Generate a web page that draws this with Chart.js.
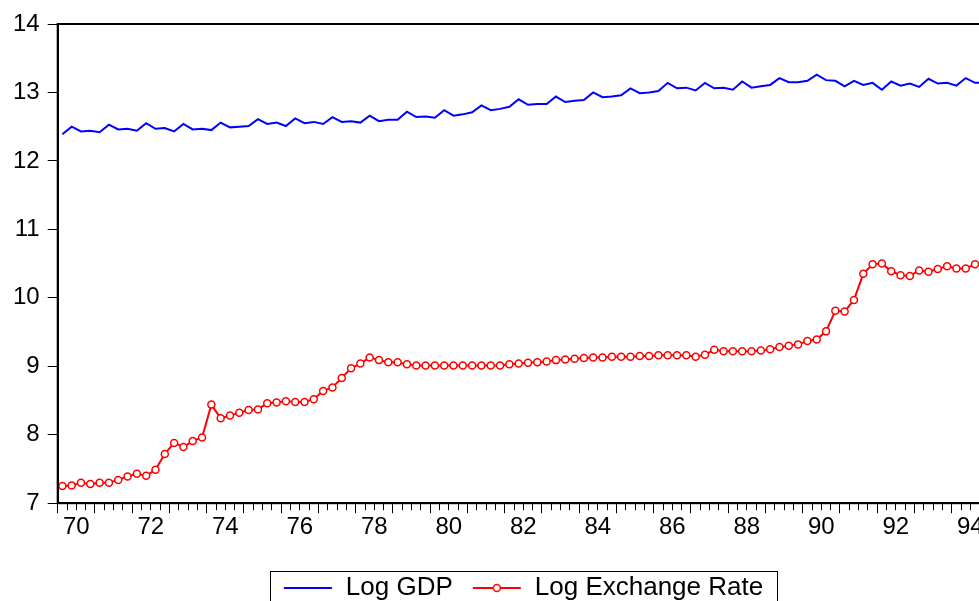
<!DOCTYPE html>
<html>
<head>
<meta charset="utf-8">
<script src="https://cdn.jsdelivr.net/npm/chart.js@4"></script>
<style>
    html, body { margin: 0; padding: 0; background: #fff; overflow: hidden; }
    #frame { width: 979px; height: 601px; overflow: hidden; position: relative; }
    #chart { display: block; }
</style>
</head>
<body>
<div id="frame">
    <canvas id="chart" width="1046" height="612"></canvas>
</div>
<script>
// Quarterly series, 1970Q1 .. 1994Q4
const logGdp = [
    12.39, 12.50, 12.43, 12.44, 12.42, 12.53, 12.46, 12.47, 12.44, 12.55,
    12.47, 12.48, 12.43, 12.54, 12.46, 12.47, 12.45, 12.56, 12.49, 12.50,
    12.51, 12.61, 12.54, 12.56, 12.51, 12.62, 12.55, 12.57, 12.54, 12.64,
    12.57, 12.58, 12.56, 12.66, 12.58, 12.60, 12.60, 12.72, 12.64, 12.65,
    12.63, 12.74, 12.66, 12.68, 12.71, 12.81, 12.74, 12.76, 12.79, 12.90,
    12.82, 12.83, 12.83, 12.94, 12.86, 12.88, 12.89, 13.00, 12.93, 12.94,
    12.96, 13.06, 12.99, 13.00, 13.02, 13.14, 13.06, 13.07, 13.03, 13.14,
    13.06, 13.07, 13.04, 13.16, 13.07, 13.09, 13.11, 13.21, 13.15, 13.15,
    13.17, 13.26, 13.18, 13.17, 13.09, 13.17, 13.11, 13.14, 13.04, 13.16,
    13.10, 13.13, 13.08, 13.20, 13.13, 13.14, 13.10, 13.21, 13.14, 13.14
];

const logExchangeRate = [
    7.25, 7.26, 7.30, 7.28, 7.30, 7.30, 7.34, 7.39, 7.43, 7.40,
    7.49, 7.72, 7.88, 7.82, 7.91, 7.96, 8.44, 8.24, 8.28, 8.32,
    8.36, 8.37, 8.46, 8.47, 8.49, 8.48, 8.48, 8.52, 8.64, 8.69,
    8.83, 8.97, 9.04, 9.13, 9.09, 9.06, 9.06, 9.03, 9.01, 9.01,
    9.01, 9.01, 9.01, 9.01, 9.01, 9.01, 9.01, 9.01, 9.03, 9.04,
    9.05, 9.06, 9.07, 9.09, 9.10, 9.11, 9.12, 9.13, 9.13, 9.14,
    9.14, 9.14, 9.15, 9.15, 9.16, 9.16, 9.16, 9.16, 9.14, 9.17,
    9.24, 9.22, 9.22, 9.22, 9.22, 9.23, 9.25, 9.28, 9.30, 9.32,
    9.37, 9.39, 9.51, 9.81, 9.80, 9.97, 10.35, 10.49, 10.50, 10.39,
    10.33, 10.32, 10.40, 10.38, 10.42, 10.46, 10.43, 10.43, 10.49, 10.48
];

const yearLabels = ['70', '72', '74', '76', '78', '80', '82', '84', '86', '88', '90', '92', '94'];
const seriesNames = ['Log GDP', 'Log Exchange Rate'];

const nObs = logGdp.length;
const xMin = -0.5;
const xMax = nObs - 0.5;
const FONT = "'Liberation Sans', Arial, sans-serif";

// legend markers: plain line, and line with a small open circle
function legendMarker(color, withCircle) {
    const c = document.createElement('canvas');
    c.width = 50;
    c.height = 12;
    const g = c.getContext('2d');
    g.strokeStyle = color;
    g.lineWidth = 2;
    g.beginPath();
    g.moveTo(1, 6);
    g.lineTo(49, 6);
    g.stroke();
    if (withCircle) {
        g.fillStyle = '#fff';
        g.lineWidth = 1.5;
        g.beginPath();
        g.arc(25, 6, 3.5, 0, Math.PI * 2);
        g.fill();
        g.stroke();
    }
    return c;
}

const framePlugin = {
    id: 'frame',
    afterDraw(chart) {
        const { ctx, chartArea } = chart;
        ctx.save();
        ctx.strokeStyle = '#000';
        ctx.lineWidth = 2;
        ctx.strokeRect(chartArea.left, chartArea.top, chartArea.right - chartArea.left, chartArea.bottom - chartArea.top);

        // box round the legend
        const boxes = chart.legend.legendHitBoxes;
        if (boxes && boxes.length) {
            const left = Math.min(...boxes.map(b => b.left)) - 13;
            const right = Math.max(...boxes.map(b => b.left + b.width)) + 14;
            const top = Math.min(...boxes.map(b => b.top)) - 4;
            const bottom = Math.max(...boxes.map(b => b.top + b.height)) + 8;
            ctx.lineWidth = 1;
            ctx.strokeRect(Math.round(left) + 0.5, Math.round(top) + 0.5, Math.round(right - left), Math.round(bottom - top));
        }
        ctx.restore();
    }
};

const toPoints = arr => arr.map((v, i) => ({ x: i, y: v }));

new Chart(document.getElementById('chart'), {
    type: 'line',
    data: {
        datasets: [
            {
                label: seriesNames[0],
                data: toPoints(logGdp),
                borderColor: '#0000ff',
                borderWidth: 2,
                pointRadius: 0,
                tension: 0
            },
            {
                label: seriesNames[1],
                data: toPoints(logExchangeRate),
                borderColor: '#ff0000',
                borderWidth: 2,
                pointRadius: 3.5,
                pointBorderWidth: 1.5,
                pointBackgroundColor: '#ffffff',
                pointBorderColor: '#ff0000',
                tension: 0
            }
        ]
    },
    options: {
        responsive: false,
        animation: false,
        events: [],
        layout: { padding: { left: 5, top: 24, right: 5, bottom: 1 } },
        scales: {
            x: {
                type: 'linear',
                position: 'bottom',
                min: xMin,
                max: xMax,
                weight: 0,
                afterBuildTicks: scale => {
                    scale.ticks = Array.from({ length: nObs + 1 }, (_, k) => ({ value: k - 0.5 }));
                },
                ticks: { display: false },
                grid: { drawOnChartArea: false, tickLength: 7, color: '#000', lineWidth: 1 },
                border: { color: '#000', width: 2 }
            },
            xMajor: {
                type: 'linear',
                position: 'bottom',
                min: xMin,
                max: xMax,
                weight: 1,
                afterBuildTicks: scale => {
                    scale.ticks = Array.from({ length: nObs / 4 + 1 }, (_, k) => ({ value: 4 * k - 0.5 }));
                },
                ticks: { display: false },
                grid: { drawOnChartArea: false, tickLength: 3, color: '#000', lineWidth: 1 },
                border: { display: false }
            },
            xYears: {
                type: 'linear',
                position: 'bottom',
                min: xMin,
                max: xMax,
                weight: 2,
                afterBuildTicks: scale => {
                    scale.ticks = yearLabels.map((_, j) => ({ value: 8 * j + 1.5 }));
                },
                afterFit: scale => { scale.height += 22; },
                ticks: {
                    autoSkip: false,
                    maxRotation: 0,
                    padding: -8,
                    color: '#000',
                    font: { family: FONT, size: 24 },
                    callback: (value, index) => yearLabels[index]
                },
                grid: { display: false },
                border: { display: false }
            },
            y: {
                type: 'linear',
                min: 7,
                max: 14,
                ticks: {
                    stepSize: 1,
                    padding: 8,
                    color: '#000',
                    font: { family: FONT, size: 24 }
                },
                grid: { drawOnChartArea: false, tickLength: 10, color: '#000', lineWidth: 1 },
                border: { color: '#000', width: 2 }
            },
            // empty right-hand strip, so the plot frame ends where the original graph did
            yRight: {
                type: 'linear',
                position: 'right',
                min: 7,
                max: 14,
                ticks: { display: false },
                grid: { display: false },
                border: { display: false },
                afterFit: scale => { scale.width = 52; }
            }
        },
        plugins: {
            tooltip: { enabled: false },
            legend: {
                position: 'bottom',
                labels: {
                    usePointStyle: true,
                    pointStyleWidth: 50,
                    padding: 19,
                    color: '#000',
                    font: { family: FONT, size: 26 },
                    generateLabels: chart => chart.data.datasets.map((ds, i) => ({
                        text: ds.label,
                        pointStyle: legendMarker(ds.borderColor, i === 1),
                        fillStyle: ds.borderColor,
                        strokeStyle: ds.borderColor,
                        lineWidth: 0,
                        hidden: false,
                        datasetIndex: i
                    }))
                }
            }
        }
    },
    plugins: [framePlugin]
});
</script>
</body>
</html>
